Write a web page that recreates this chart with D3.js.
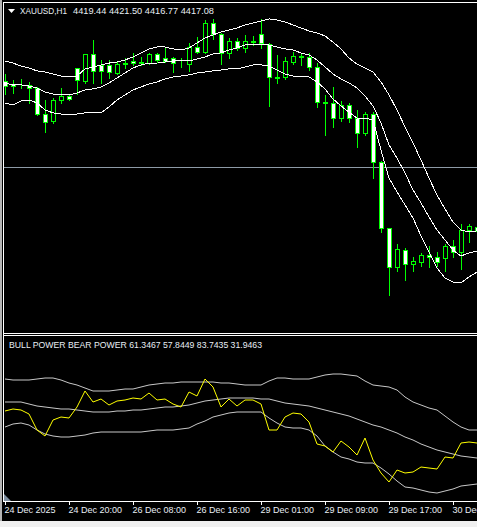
<!DOCTYPE html>
<html>
<head>
<meta charset="utf-8">
<script src="https://cdn.jsdelivr.net/npm/d3@7"></script>
<style>
  html, body { margin: 0; padding: 0; background: #f0f0f0; }
  svg { display: block; }
  text { font-family: "Liberation Sans", Arial, sans-serif; font-size: 9px; fill: #e8eef4; }
</style>
</head>
<body>
<script>
const svgWidth = 477,
    svgHeight = 527;

// XAUUSD H1 bars, left to right
const open = [4514.5, 4512.5, 4512.5, 4511.9, 4509.9, 4493.1, 4488.5, 4502.1, 4504.7, 4522.9,
    4514.5, 4532.0, 4524.8, 4524.8, 4519.7, 4525.5, 4527.4, 4526.1, 4526.1, 4532.0,
    4529.4, 4529.4, 4526.1, 4525.5, 4536.5, 4533.3, 4552.1, 4545.0, 4532.6, 4540.4,
    4535.9, 4540.4, 4545.0, 4538.5, 4517.1, 4517.1, 4526.8, 4530.7, 4530.0, 4523.5,
    4500.8, 4500.2, 4490.5, 4498.9, 4490.5, 4480.7, 4493.1, 4461.9, 4418.5, 4393.2,
    4404.2, 4395.1, 4396.4, 4401.0, 4399.7, 4399.0, 4407.4, 4402.9, 4417.2, 4419.4];
const high = [4519.0, 4515.1, 4515.8, 4513.8, 4510.6, 4502.1, 4503.4, 4509.9, 4505.4, 4522.9,
    4532.0, 4541.1, 4528.1, 4528.1, 4526.8, 4529.4, 4532.6, 4530.0, 4532.6, 4532.6,
    4535.9, 4530.0, 4529.4, 4539.1, 4543.0, 4554.0, 4554.7, 4545.6, 4542.4, 4542.4,
    4544.3, 4543.6, 4554.7, 4539.1, 4531.3, 4530.0, 4533.3, 4532.6, 4532.6, 4526.1,
    4505.4, 4510.6, 4501.5, 4500.2, 4495.7, 4494.4, 4494.4, 4462.6, 4418.5, 4408.7,
    4405.5, 4399.7, 4402.3, 4406.8, 4402.9, 4408.7, 4411.3, 4421.1, 4421.7, 4421.5];
const low = [4506.0, 4506.7, 4509.9, 4500.2, 4492.4, 4481.4, 4487.2, 4500.2, 4502.1, 4506.0,
    4513.2, 4513.2, 4513.2, 4516.4, 4519.0, 4522.9, 4524.8, 4524.8, 4525.5, 4526.8,
    4526.8, 4520.3, 4523.5, 4521.0, 4532.6, 4532.6, 4541.7, 4525.5, 4529.4, 4534.6,
    4533.3, 4537.8, 4535.9, 4498.2, 4513.2, 4515.8, 4525.5, 4524.8, 4521.6, 4497.6,
    4479.4, 4484.6, 4488.5, 4487.9, 4471.7, 4479.4, 4451.5, 4415.9, 4375.0, 4390.6,
    4384.7, 4390.6, 4393.8, 4393.2, 4393.8, 4390.6, 4399.7, 4391.9, 4409.4, 4416.8];
const close = [4511.2, 4511.2, 4512.2, 4509.9, 4493.1, 4487.9, 4502.1, 4504.7, 4502.8, 4515.1,
    4532.0, 4521.0, 4521.0, 4520.3, 4525.5, 4526.1, 4526.1, 4526.4, 4532.0, 4528.1,
    4527.4, 4526.1, 4525.8, 4536.5, 4533.3, 4552.1, 4545.0, 4532.6, 4540.4, 4535.9,
    4540.4, 4539.8, 4539.1, 4517.1, 4516.4, 4527.4, 4530.7, 4530.0, 4523.5, 4500.8,
    4500.2, 4490.5, 4498.9, 4490.5, 4480.7, 4493.1, 4461.9, 4418.5, 4393.2, 4404.9,
    4395.1, 4397.1, 4401.0, 4399.7, 4396.4, 4407.4, 4402.9, 4417.8, 4419.8, 4417.1];

// bands on price
const bandUpper = [4527.4, 4526.0, 4524.1, 4522.8, 4520.9, 4520.2, 4518.9, 4517.6, 4517.0, 4517.6,
    4522.2, 4523.5, 4524.8, 4526.0, 4526.7, 4528.0, 4530.0, 4532.6, 4535.2, 4536.5,
    4536.5, 4535.2, 4534.5, 4535.8, 4539.1, 4542.3, 4544.3, 4546.2, 4547.5, 4548.8,
    4550.8, 4552.1, 4553.4, 4554.7, 4554.0, 4552.7, 4550.8, 4548.8, 4546.9, 4545.6,
    4543.6, 4539.7, 4535.2, 4529.3, 4525.4, 4522.8, 4520.2, 4513.7, 4505.3, 4495.5,
    4484.5, 4474.1, 4463.0, 4451.3, 4440.3, 4431.2, 4422.7, 4417.5, 4416.2, 4416.9];
const bandMid = [4513.1, 4511.8, 4511.8, 4511.1, 4509.8, 4507.2, 4505.9, 4505.3, 4505.3, 4506.6,
    4508.5, 4509.2, 4510.5, 4513.1, 4516.3, 4519.6, 4522.8, 4524.8, 4526.0, 4526.0,
    4526.7, 4527.4, 4527.4, 4527.4, 4528.7, 4530.0, 4531.9, 4532.6, 4534.5, 4535.8,
    4537.8, 4538.4, 4538.4, 4537.8, 4536.5, 4535.2, 4534.5, 4532.6, 4531.3, 4528.0,
    4523.5, 4518.9, 4515.7, 4513.1, 4509.8, 4504.6, 4498.1, 4487.1, 4472.8, 4464.3,
    4454.6, 4443.5, 4435.1, 4426.0, 4417.5, 4411.0, 4404.5, 4400.6, 4402.6, 4403.9];
const bandLower = [4500.1, 4498.8, 4501.4, 4502.0, 4500.1, 4495.5, 4493.6, 4492.9, 4492.9, 4492.9,
    4493.6, 4493.6, 4493.6, 4497.5, 4502.0, 4505.3, 4508.5, 4510.5, 4512.4, 4513.7,
    4515.7, 4517.0, 4517.6, 4518.3, 4519.6, 4520.2, 4520.9, 4521.5, 4522.2, 4522.2,
    4523.5, 4524.8, 4524.8, 4524.1, 4521.5, 4518.9, 4517.6, 4517.6, 4517.0, 4513.7,
    4509.2, 4502.7, 4498.1, 4494.2, 4490.3, 4490.3, 4489.0, 4469.5, 4451.3, 4442.2,
    4433.8, 4425.3, 4413.6, 4403.2, 4392.8, 4386.3, 4383.7, 4383.1, 4387.0, 4390.2];

const levelPrice = 4458.7;

// bull power / bear power window
const power = [104, 106, 105, 101, 85, 79, 95, 98, 97, 108,
    124, 113, 116, 110, 114, 115, 117, 116, 122, 115,
    116, 111, 108, 123, 119, 136, 128, 108, 116, 109,
    115, 115, 111, 85, 85, 98, 102, 101, 93, 71,
    69, 63, 74, 68, 60, 77, 55, 42, 33, 45,
    42, 43, 48, 47, 46, 58, 57, 72, 73, 72];
const powerUpper = [136, 135, 135, 135, 136, 137, 137, 135, 132, 130,
    127, 124, 124, 124, 125, 126, 126, 128, 130, 131,
    132, 132, 133, 133, 133, 133, 133, 132, 132, 131,
    130, 130, 130, 134, 137, 137, 136, 136, 136, 138,
    140, 141, 141, 140, 139, 134, 130, 129, 128, 125,
    118, 113, 110, 107, 105, 99, 93, 88, 85, 85];
const powerMid = [113, 113, 113, 111, 109, 108, 107, 106, 106, 105,
    104, 103, 103, 103, 104, 104, 105, 105, 106, 107,
    108, 108, 109, 110, 112, 114, 115, 116, 117, 117,
    117, 117, 116, 116, 114, 112, 111, 110, 109, 107,
    105, 103, 101, 99, 96, 93, 90, 88, 85, 82,
    78, 75, 71, 68, 65, 63, 61, 59, 58, 57];
const powerLower = [88, 91, 92, 90, 85, 81, 79, 78, 78, 79,
    80, 82, 83, 83, 83, 83, 83, 83, 84, 85,
    85, 85, 86, 87, 91, 94, 98, 100, 102, 103,
    103, 103, 103, 97, 92, 88, 87, 87, 85, 79,
    69, 63, 58, 56, 53, 52, 52, 47, 41, 34,
    28, 27, 25, 23, 22, 24, 26, 29, 30, 31];

const tickBars = [0, 8, 16, 24, 32, 40, 48, 56];
const tickLabels = ["24 Dec 2025", "24 Dec 20:00", "26 Dec 08:00", "26 Dec 16:00",
    "29 Dec 01:00", "29 Dec 09:00", "29 Dec 17:00", "30 Dec 01:00"];

const symbolTitle = "XAUUSD,H1";
const lastQuote = "4419.44 4421.50 4416.77 4417.08";
const powerTitle = "BULL POWER BEAR POWER 61.3467 57.8449 83.7435 31.9463";

// panel layout
const left = 3,
    mainTop = 2,
    mainBottom = 333,
    subTop = 335,
    subBottom = 501;

var x = d3.scaleLinear().domain([0, open.length - 1]).range([5, 5 + 8 * (open.length - 1)]);
var y = d3.scaleLinear().domain([4350.55, 4567]).range([mainBottom, 0]);
var yp = d3.scaleLinear().domain([14, 179]).range([subBottom, 336]);

var svg = d3.select("body").append("svg")
    .attr("width", svgWidth)
    .attr("height", svgHeight);

// black chart area, grey window edges
svg.append("rect").attr("x", 0).attr("y", 0).attr("width", svgWidth).attr("height", 521).attr("fill", "#000");
svg.append("rect").attr("x", 0).attr("y", 0).attr("width", 2).attr("height", 521).attr("fill", "#b4b4b4");

var defs = svg.append("defs");
defs.append("clipPath").attr("id", "clipMain").append("rect")
    .attr("x", left + 1).attr("y", mainTop + 1).attr("width", svgWidth).attr("height", mainBottom - mainTop - 1);
defs.append("clipPath").attr("id", "clipSub").append("rect")
    .attr("x", left + 1).attr("y", subTop + 1).attr("width", svgWidth).attr("height", subBottom - subTop - 1);

var main = svg.append("g").attr("clip-path", "url(#clipMain)");

main.append("line")
    .attr("x1", left).attr("x2", svgWidth)
    .attr("y1", Math.round(y(levelPrice)) + 0.5).attr("y2", Math.round(y(levelPrice)) + 0.5)
    .attr("stroke", "#8d9aa6");

var bars = d3.range(open.length);

main.append("g").selectAll("line")
    .data(bars).enter()
    .append("line")
    .attr("x1", function (i) { return x(i) + 0.5; })
    .attr("x2", function (i) { return x(i) + 0.5; })
    .attr("y1", function (i) { return Math.round(y(high[i])); })
    .attr("y2", function (i) { return Math.round(y(low[i])) + 1; })
    .attr("stroke", "#00ff00")
    .attr("shape-rendering", "crispEdges");

main.append("g").selectAll("rect")
    .data(bars).enter()
    .append("rect")
    .attr("x", function (i) { return x(i) - 1.5; })
    .attr("width", 4)
    .attr("y", function (i) { return Math.round(y(Math.max(open[i], close[i]))) + 0.5; })
    .attr("height", function (i) {
        return Math.round(y(Math.min(open[i], close[i]))) - Math.round(y(Math.max(open[i], close[i])));
    })
    .attr("fill", function (i) { return close[i] > open[i] ? "#000" : "#fff"; })
    .attr("stroke", "#00ff00")
    .attr("shape-rendering", "crispEdges");

function priceLine(values) {
    return d3.line()(values.map(function (v, i) { return [x(i), y(v)]; }));
}

[bandUpper, bandMid, bandLower].forEach(function (band) {
    main.append("path")
        .attr("d", priceLine(band))
        .attr("fill", "none")
        .attr("stroke", "#fff")
        .attr("shape-rendering", "crispEdges");
});

// indicator window
var sub = svg.append("g").attr("clip-path", "url(#clipSub)");

function powerLine(values) {
    return d3.line()(values.map(function (v, i) { return [x(i), yp(v)]; }));
}

[powerUpper, powerMid, powerLower].forEach(function (band) {
    sub.append("path")
        .attr("d", powerLine(band))
        .attr("fill", "none")
        .attr("stroke", "#c8c8c8");
});

sub.append("path")
    .attr("d", powerLine(power))
    .attr("fill", "none")
    .attr("stroke", "#ffff00");

sub.append("path")
    .attr("d", "M4,494L4,501L11,501Z")
    .attr("fill", "#7f8fa0");

// frames
var frame = svg.append("g").attr("stroke", "#fff").attr("shape-rendering", "crispEdges");
frame.append("line").attr("x1", left + 0.5).attr("x2", left + 0.5).attr("y1", mainTop).attr("y2", subBottom + 1);
frame.append("line").attr("x1", left).attr("x2", svgWidth).attr("y1", mainTop + 0.5).attr("y2", mainTop + 0.5);
frame.append("line").attr("x1", left).attr("x2", svgWidth).attr("y1", mainBottom + 0.5).attr("y2", mainBottom + 0.5);
frame.append("line").attr("x1", left).attr("x2", svgWidth).attr("y1", subTop + 0.5).attr("y2", subTop + 0.5);

// time axis
var axis = svg.append("g")
    .attr("transform", "translate(0," + subBottom + ")")
    .call(d3.axisBottom(x)
        .tickValues(tickBars)
        .tickFormat(function (d, i) { return tickLabels[i]; })
        .tickSize(4)
        .tickSizeOuter(0));
axis.select(".domain").remove();
axis.selectAll(".tick line").attr("stroke", "#fff");
axis.selectAll(".tick text")
    .attr("x", -1)
    .attr("y", 12)
    .attr("dy", null)
    .attr("text-anchor", "start")
    .attr("fill", "#e8eef4")
    .style("font", "9px 'Liberation Sans', Arial, sans-serif");
axis.append("line")
    .attr("x1", left).attr("x2", svgWidth)
    .attr("y1", 0.5).attr("y2", 0.5)
    .attr("stroke", "#fff");

// titles
svg.append("path").attr("d", "M8,9L15,9L11.5,13Z").attr("fill", "#fff");
svg.append("text").attr("x", 20).attr("y", 14)
    .attr("textLength", 47).attr("lengthAdjust", "spacingAndGlyphs").text(symbolTitle);
svg.append("text").attr("x", 73).attr("y", 14)
    .attr("textLength", 141).attr("lengthAdjust", "spacingAndGlyphs").text(lastQuote);
svg.append("text").attr("x", 9).attr("y", 348)
    .attr("textLength", 253).attr("lengthAdjust", "spacingAndGlyphs").text(powerTitle);
</script>
</body>
</html>
